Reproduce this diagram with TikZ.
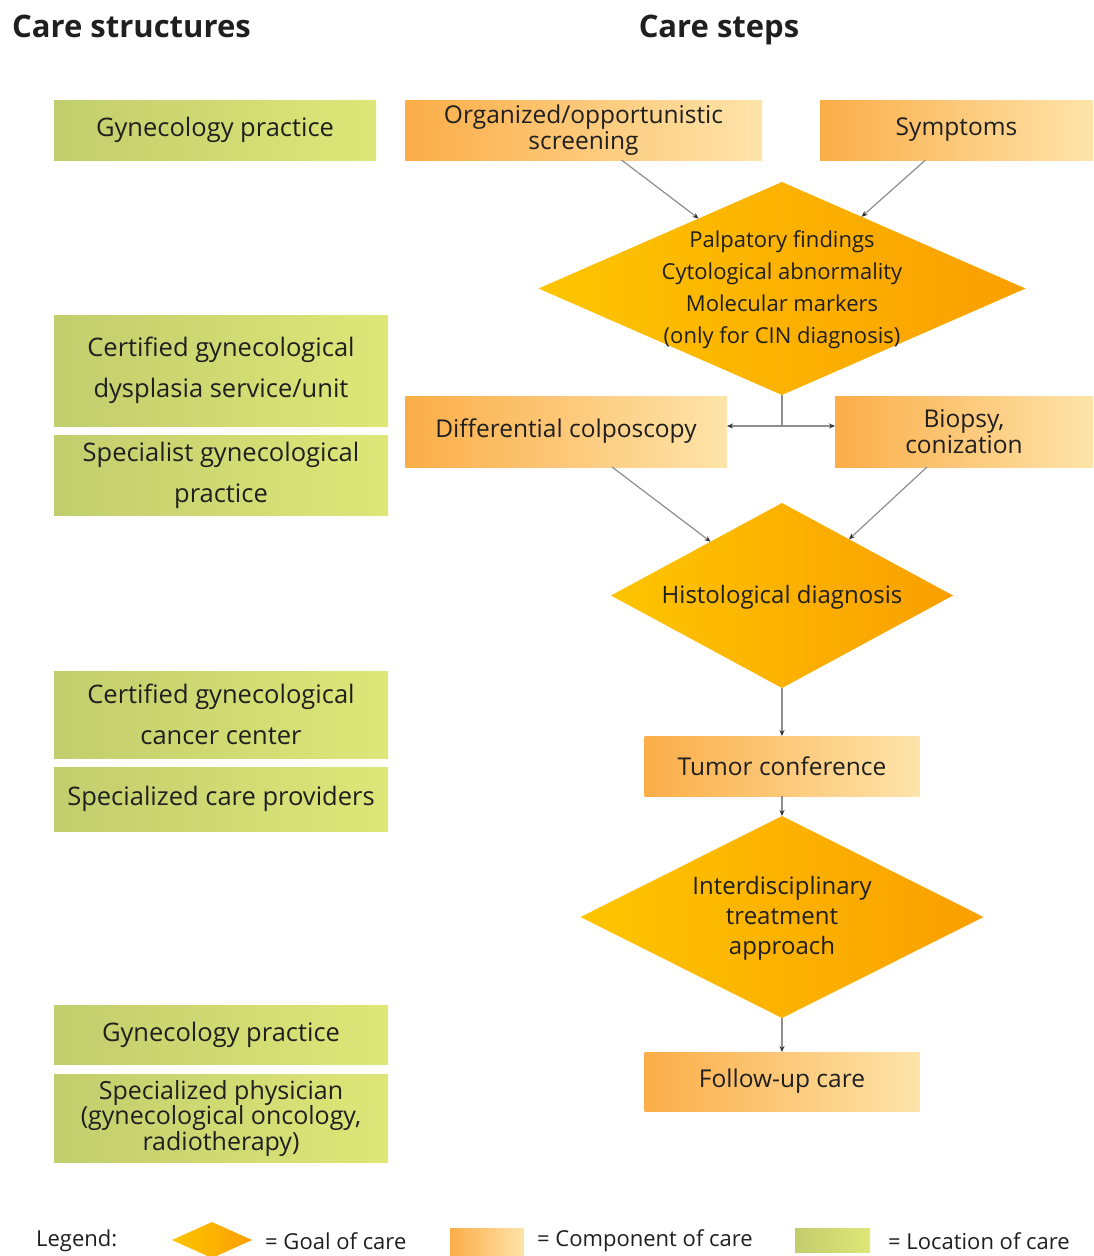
\documentclass[tikz,border=0pt]{standalone}
\usepackage{fontspec}
\setmainfont{Open Sans}
\usetikzlibrary{arrows.meta, shapes.geometric, calc}
\definecolor{textfg}{HTML}{1F1F1F}
\definecolor{locleft}{HTML}{C2CD6D}
\definecolor{locright}{HTML}{DDE778}
\definecolor{compleft}{HTML}{FBAD48}
\definecolor{compright}{HTML}{FEE4AA}
\definecolor{goalleft}{HTML}{FEC500}
\definecolor{goalright}{HTML}{FA9F00}
\definecolor{linecol}{HTML}{8E8E8E}
\definecolor{tipcol}{HTML}{303030}
\tikzset{
    locbox/.style={rectangle, left color=locleft, right color=locright, draw=none, inner sep=0pt, outer sep=0pt, align=center, text=textfg, font=\fontsize{25.5}{41}\selectfont},
    compbox/.style={rectangle, left color=compleft, right color=compright, draw=none, inner sep=0pt, outer sep=0pt, align=center, text=textfg, font=\fontsize{24.5}{26}\selectfont},
    goalshape/.style={diamond, left color=goalleft, right color=goalright, draw=none, inner sep=0pt, outer sep=0pt},
    goaltext/.style={align=center, text=textfg, inner sep=0pt, font=\fontsize{24}{30}\selectfont},
    headline/.style={font=\fontsize{31}{36}\selectfont\bfseries, text=textfg, inner sep=0pt},
    legendtext/.style={font=\fontsize{22}{26}\selectfont, text=textfg, inner sep=0pt, anchor=west},
    flowline/.style={draw=linecol, line width=1.2pt},
    flowarrow/.style={flowline, -{Stealth[length=6pt, width=5pt, color=tipcol]}},
}
\begin{document}
\begin{tikzpicture}[x=1pt, y=-1pt]
\useasboundingbox (0,0) rectangle (1093,1256);
% column titles
\node[headline, anchor=base west] (structtitle) at (12,37) {Care structures};
\node[headline, anchor=base] (steptitle) at (719,37) {Care steps};
% care structures
\node[locbox, minimum width=322, minimum height=60] (gyn1) at (215,130) {Gynecology practice};
\node[locbox, minimum width=334, minimum height=111] (dysplasia) at (221,370.5) {Certified gynecological\\dysplasia service/unit};
\node[locbox, minimum width=334, minimum height=80] (specialist) at (221,475) {Specialist gynecological\\practice};
\node[locbox, minimum width=334, minimum height=87] (cancercenter) at (221,714.5) {Certified gynecological\\cancer center};
\node[locbox, minimum width=334, minimum height=64] (providers) at (221,799) {Specialized care providers};
\node[locbox, minimum width=334, minimum height=59] (gyn2) at (221,1034.5) {Gynecology practice};
\node[locbox, minimum width=334, minimum height=88, font=\fontsize{25}{25.5}\selectfont] (physician) at (221,1118) {Specialized physician\\(gynecological oncology,\\radiotherapy)};
% care steps
\node[compbox, minimum width=357, minimum height=60] (screening) at (583.5,130) {Organized/opportunistic\\screening};
\node[compbox, minimum width=273, minimum height=60] (symptoms) at (956.5,130) {Symptoms};
\node[goalshape, minimum width=487, minimum height=213] (findings) at (782,288.5) {};
\node[goaltext, font=\fontsize{22}{32}\selectfont] (findingstext) at (782,290) {Palpatory findings\\Cytological abnormality\\Molecular markers\\(only for CIN diagnosis)};
\node[compbox, minimum width=322, minimum height=71] (colposcopy) at (566,431.5) {Differential colposcopy};
\node[compbox, minimum width=258, minimum height=71] (biopsy) at (964,431.5) {Biopsy,\\conization};
\node[goalshape, minimum width=342, minimum height=185] (histology) at (782,595.5) {};
\node[goaltext] (histologytext) at (782,597) {Histological diagnosis};
\node[compbox, minimum width=275, minimum height=60] (tumorconf) at (782,766) {Tumor conference};
\node[goalshape, minimum width=403, minimum height=202] (treatment) at (782,917) {};
\node[goaltext] (treatmenttext) at (782,918) {Interdisciplinary\\treatment\\approach};
\node[compbox, minimum width=275, minimum height=59] (followup) at (782,1081.5) {Follow-up care};
% connectors
\draw[flowarrow] ([xshift=38pt]screening.south) -- (findings.140);
\draw[flowarrow] ([xshift=-31pt]symptoms.south) -- (findings.42);
\coordinate (split) at (findings.south |- 0,426);
\draw[flowline] (findings.south) -- (split);
\draw[flowarrow] (split) -- (split -| colposcopy.east);
\draw[flowarrow] (split) -- (split -| biopsy.west);
\draw[flowarrow] ([xshift=46pt]colposcopy.south) -- (histology.143);
\draw[flowarrow] ([xshift=-37pt]biopsy.south) -- (histology.40);
\draw[flowarrow] (histology.south) -- (tumorconf.north);
\draw[flowarrow] (tumorconf.south) -- (treatment.north);
\draw[flowarrow] (treatment.south) -- (followup.north);
% legend
\node[legendtext] (legendlabel) at (36,1241) {Legend:};
\node[goalshape, minimum width=80, minimum height=36] (leggoal) at (212,1240) {};
\node[legendtext] (leggoaltext) at (265,1241) {= Goal of care};
\node[compbox, minimum width=74, minimum height=28] (legcomp) at (487,1242) {};
\node[legendtext] (legcomptext) at (537,1241) {= Component of care};
\node[locbox, minimum width=75, minimum height=24] (legloc) at (832.5,1240) {};
\node[legendtext] (legloctext) at (888,1241) {= Location of care};
\end{tikzpicture}
\end{document}
